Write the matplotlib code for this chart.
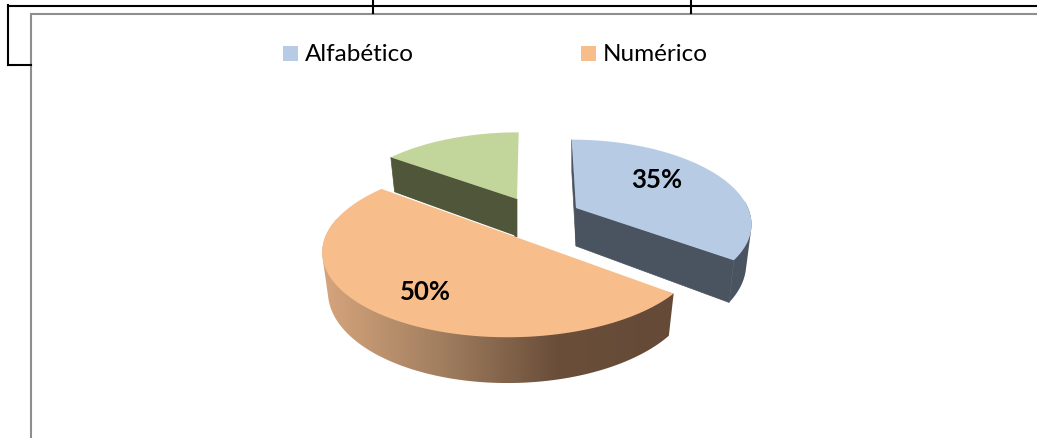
import numpy as np
import matplotlib
matplotlib.use('Agg')
import matplotlib.pyplot as plt
from matplotlib.colors import LinearSegmentedColormap
from matplotlib.patches import Polygon, Rectangle

plt.rcParams['font.family'] = ['Lato', 'DejaVu Sans']

# Data
categories = ['Alfabético', 'Numérico', '']
values = [35, 50, 15]
top_colors = ['#B7CCE4', '#F7BE8B', '#C2D69B']
side_colors = ['#4A5360', '#6A4E3A', '#4F5639']

# Where each exploded slice sits on the page (pixels)
centers = [(576, 208), (513, 236), (517, 199)]
radius_x = [172, 186, 173]
radius_y = [80, 84, 78]
shear = [-5, 10, 2]
tilt = [0, 3, 0]
depth = 38
persp = 0.17
shrink = 0.97

W, H = 1037, 438
fig = plt.figure(figsize=(W / 100, H / 100), dpi=100)
ax = fig.add_axes([0, 0, 1, 1])
ax.axis('off')

# Table rules behind the chart
for xs, ys in [([8, W], [5.5, 5.5]), ([8, 8], [5, 65]), ([8, 31], [65, 65]),
               ([373, 373], [0, 13]), ([691, 691], [0, 13])]:
    ax.plot(xs, ys, color='black', lw=1.5, solid_capstyle='projecting')

# Chart frame
ax.add_patch(Rectangle((30.5, 13.5), W, H, fc='white', ec='#8E8E8E', lw=1.5))

# Angles are clockwise from 12 o'clock
fractions = np.array(values) / sum(values)
edges = np.concatenate([[0], np.cumsum(fractions) * 2 * np.pi])


def project(i, theta):
    u, v = np.sin(theta), np.cos(theta)
    s = 1 / (1 + persp * v)
    x = centers[i][0] + (radius_x[i] * u + shear[i] * v) * s
    y = centers[i][1] + (tilt[i] * u - radius_y[i] * v) * s
    return x, y, s


def lower(i, x, y, s):
    # bottom face of the disc sits lower and a little further away
    return centers[i][0] + (x - centers[i][0]) * shrink, y + depth * s


def hull(points):
    # monotone chain, so the side wall keeps a clean outer silhouette
    pts = sorted(map(tuple, points))

    def half(seq):
        out = []
        for p in seq:
            while len(out) >= 2 and ((out[-1][0] - out[-2][0]) * (p[1] - out[-2][1])
                                     - (out[-1][1] - out[-2][1]) * (p[0] - out[-2][0])) <= 0:
                out.pop()
            out.append(p)
        return out[:-1]

    return np.array(half(pts) + half(pts[::-1]))


def draw_cut(i, theta):
    x, y, s = project(i, theta)
    cx, cy = centers[i]
    lx, ly = lower(i, x, y, s)
    ax.fill([cx, x, lx, cx], [cy, y, ly, cy + depth], color=side_colors[i], lw=0.5, zorder=1.5)


rim_shade = LinearSegmentedColormap.from_list('rim', ['#D6A57C', '#A27F60', '#6A4E3A', '#644A37'])


def draw_rim(i, a, b):
    thetas = np.linspace(a, b, 200)
    x, y, s = project(i, thetas)
    lx, ly = lower(i, x, y, s)
    pts = hull(np.column_stack([np.r_[x, lx], np.r_[y, ly]]))
    if i == 1:
        # shaded from light on the left to dark on the right
        clip = Polygon(pts, closed=True, transform=ax.transData, fc='none', ec='none')
        ax.add_patch(clip)
        ramp = np.linspace(0, 1, 256).reshape(1, -1)
        img = ax.imshow(ramp, cmap=rim_shade, aspect='auto', interpolation='bilinear',
                        extent=[pts[:, 0].min(), pts[:, 0].max(), pts[:, 1].max(), pts[:, 1].min()],
                        zorder=1.7)
        img.set_clip_path(clip)
    else:
        ax.fill(pts[:, 0], pts[:, 1], color=side_colors[i], lw=0, zorder=1.5)


def draw_top(i, a, b, z):
    thetas = np.linspace(a, b, 160)
    x, y, s = project(i, thetas)
    cx, cy = centers[i]
    ax.fill(np.r_[cx, x], np.r_[cy, y], color=top_colors[i], lw=0, zorder=z)


# Green slice at the back
a, b = edges[2], edges[3]
draw_cut(2, a)
draw_top(2, a, b, 2)

# Blue slice pulled out to the right
a, b = edges[0], edges[1]
draw_rim(0, np.radians(85), b)
draw_cut(0, a)
draw_cut(0, b)
draw_top(0, a, b, 2)

# Orange slice in front, with a thin white seam along its straight edge
a, b = edges[1], edges[2]
x_end, y_end, _ = project(1, b)
ax.plot([x_end, centers[1][0]], [y_end, centers[1][1]], color='white', lw=1.5, zorder=2.1)
draw_rim(1, a, np.radians(280))
draw_top(1, a, b, 2.2)

# Percent labels
ax.text(657, 180, f'{values[0]}%', fontsize=18.5, fontweight='bold', ha='center', va='center',
        color='black', zorder=3)
ax.text(425, 292, f'{values[1]}%', fontsize=18.5, fontweight='bold', ha='center', va='center',
        color='black', zorder=3)

# Legend
for x0, color, name in zip([283, 581], top_colors, categories):
    ax.add_patch(Rectangle((x0, 46), 15, 15, fc=color, ec='none'))
    ax.text(x0 + 22, 54.5, name, fontsize=17.5, ha='left', va='center', color='black')

ax.set_xlim(0, W)
ax.set_ylim(H, 0)
fig.savefig('out.png', dpi=100)
